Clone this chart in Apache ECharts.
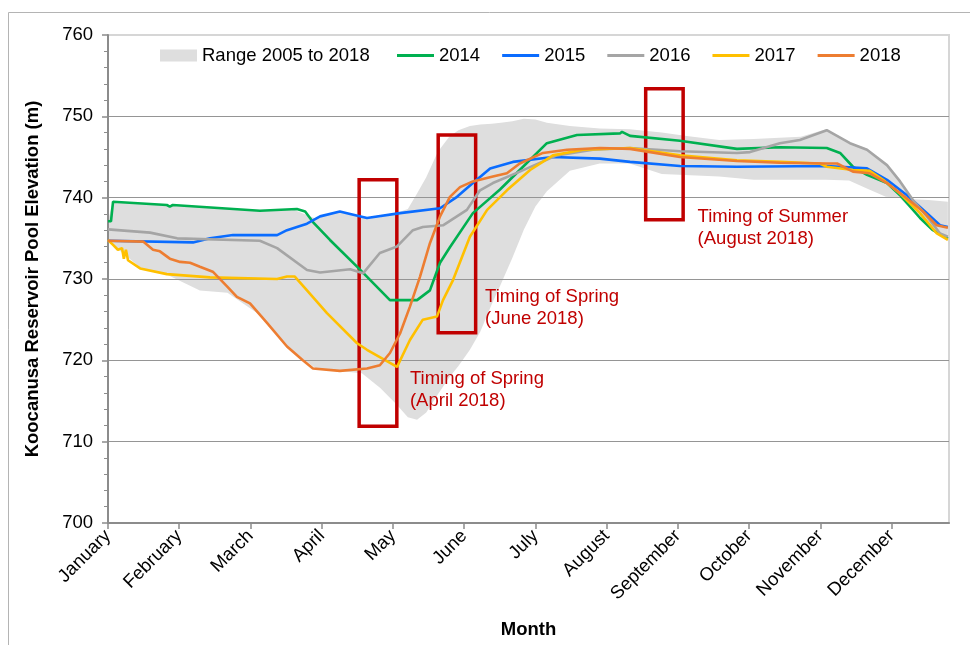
<!DOCTYPE html>
<html>
<head>
<meta charset="utf-8">
<script src="https://cdn.jsdelivr.net/npm/echarts@6/dist/echarts.min.js"></script>
<style>html,body{margin:0;padding:0;background:#fff;}#c{width:970px;height:645px;}</style>
</head>
<body>
<div id="c"></div>
<script>
// ---- Data (x = day of year, y = pool elevation in m) ----
const months = ['January','February','March','April','May','June','July','August','September','October','November','December'];
const monthTickDays = [0,31,62,93,124,155,186,217,248,279,310,341];
const yTickValues = [700,710,720,730,740,750,760];

const days2014 = [0,1.3,2.2,25.6,26.9,28.2,66.1,82.2,85.8,89.2,96.6,108.8,122.7,134.5,140.1,144.5,148.8,158.8,170.6,179.2,191.0,204.1,222.8,223.7,227.2,248.9,273.7,292.4,312.8,318.6,324.2,330.3,339.0,344.7,353.4,359.0,365.5];
const elev2014 = [737.1,737.1,739.5,739.1,738.9,739.1,738.4,738.6,738.3,737.0,734.8,731.4,727.4,727.4,728.6,732.0,733.9,738.1,741.0,743.4,746.7,747.7,747.9,748.1,747.6,747.0,746.0,746.2,746.1,745.5,743.8,742.8,741.8,740.3,737.5,736.0,735.0];

const days2015 = [0,37.0,44.4,54.4,73.6,77.9,86.6,92.3,100.9,105.4,112.7,127.1,144.5,151.9,158.8,166.3,176.2,193.6,214.1,227.2,248.9,273.7,312.8,330.3,339.0,347.7,356.4,362.1,365.5];
const elev2015 = [734.7,734.5,735.0,735.4,735.4,736.0,736.8,737.7,738.3,738.0,737.5,738.1,738.7,740.1,741.8,743.6,744.4,745.0,744.8,744.4,743.9,743.8,743.9,743.6,742.2,740.3,738.1,736.6,736.4];

const days2016 = [0,18.3,30.1,66.1,73.6,86.6,92.3,105.4,111.0,118.3,125.8,132.7,137.0,145.8,156.2,161.9,167.5,179.2,195.3,211.0,227.2,248.9,273.7,279.4,292.4,301.1,312.8,322.9,330.3,339.0,344.7,350.3,356.4,362.1,365.5];
const elev2016 = [736.1,735.7,735.0,734.7,733.8,731.1,730.8,731.2,730.7,733.2,734.0,736.0,736.4,736.6,738.5,740.9,741.8,743.2,745.2,745.9,746.1,745.7,745.5,745.6,746.7,747.1,748.3,746.7,745.9,744.0,742.0,739.7,737.7,735.6,735.2];

const days2017 = [0,2.2,4.3,6.1,6.9,7.8,8.7,14.0,25.6,44.4,73.6,77.9,81.3,86.6,95.3,108.4,112.7,125.8,131.4,137.0,143.2,145.8,150.2,157.5,165.0,173.6,183.7,193.6,206.7,227.2,248.9,273.7,292.4,309.8,312.8,324.2,331.5,337.3,344.7,353.4,360.7,365.5];
const elev2017 = [734.8,734.2,733.6,733.8,732.5,733.6,732.3,731.3,730.6,730.2,730.0,730.3,730.3,728.6,725.8,722.1,721.3,719.2,722.5,725.0,725.4,727.4,729.9,735.2,738.5,740.9,743.4,745.2,745.9,746.1,745.2,744.6,744.4,744.2,743.8,743.4,743.3,742.2,740.5,738.1,735.6,734.8];

const days2018 = [0,15.3,19.6,22.6,26.9,31.4,35.7,40.0,45.6,51.8,56.1,61.8,69.2,77.9,84.8,89.2,100.9,112.7,118.3,122.7,127.1,131.4,135.8,140.1,144.5,148.8,153.2,158.8,167.5,173.6,179.2,189.3,199.8,214.1,227.2,248.9,273.7,292.4,312.8,317.3,324.2,331.5,339.0,347.7,354.7,360.7,365.5];
const elev2018 = [734.7,734.6,733.6,733.4,732.5,732.1,732.0,731.5,730.9,729.1,727.8,727.0,724.6,721.7,720.0,719.0,718.7,719.0,719.4,720.9,723.3,726.6,730.3,734.4,737.7,740.1,741.3,742.0,742.6,743.0,744.2,745.5,745.9,746.1,746.0,745.0,744.5,744.3,744.2,744.2,743.2,743.0,741.8,739.9,738.3,736.6,736.3];

const rangeDays = [0,2,15,26,40,52,65,80,90.5,100.5,110.5,118.5,125.5,130.5,134.5,138.5,143.5,148.5,152.5,157.5,162,167,171,176,181,186,191,201,214,227,241,251,266,281,294.5,301.5,312.5,322.5,330.5,338.5,344.5,350.5,357,362,365.5];
const rangeHigh = [737.1,739.5,739.3,739.1,738.9,738.7,738.4,738.6,737.4,738.3,737.6,737.6,738.1,738.6,740.5,742.5,745.6,747.5,748.3,748.8,749.0,749.1,749.2,749.4,749.7,749.6,749.2,748.8,748.5,748.4,748.0,747.6,747.1,747.2,747.4,747.5,748.4,746.8,746.0,744.1,742.0,739.8,739.7,739.6,739.5];
const rangeLow = [734.7,734.2,731.2,730.5,728.6,728.3,725.8,721.2,719.0,718.7,718.4,716.6,714.6,713.0,712.7,713.6,715.8,717.9,719.3,721.3,723.5,726.9,729.4,732.6,736.1,738.9,740.8,743.3,744.2,744.2,742.9,742.8,742.6,742.2,742.2,742.2,742.2,742.1,741.1,740.1,740.0,738.3,736.4,735.4,734.7];

// annotation boxes (day range, elevation range) and labels
const boxDayStart = [109.3,143.7,234.0];
const boxDayEnd = [125.7,160.0,250.3];
const boxElevTop = [742.2,747.7,753.4];
const boxElevBottom = [711.9,723.4,737.3];
const noteTexts = ['Timing of Spring\n(April 2018)','Timing of Spring\n(June 2018)','Timing of Summer\n(August 2018)'];
const noteDay = [131.4,164.1,256.6];
const noteElev = [719.1,729.1,739.0];

const zip = (xs, ys) => xs.map((x, i) => [x, ys[i]]);
const FONT = '"Liberation Sans", Arial, sans-serif';
const FS = 18.5;
const BAND = '#dedede';

const chart = echarts.init(document.getElementById('c'), null, {renderer: 'canvas'});

const lineSeries = (name, xs, ys, color) => ({
  name, type: 'line', data: zip(xs, ys), showSymbol: false, symbol: 'none',
  lineStyle: {color, width: 2.6}, itemStyle: {color}, z: 3, animation: false
});

const s2018 = lineSeries('2018', days2018, elev2018, '#ed7d31');
s2018.markArea = {
  silent: true,
  itemStyle: {color: 'rgba(0,0,0,0)', borderColor: '#c00000', borderWidth: 3.5},
  label: {show: false},
  data: boxDayStart.map((d, i) => [
    {xAxis: d, yAxis: boxElevTop[i]},
    {xAxis: boxDayEnd[i], yAxis: boxElevBottom[i]}
  ])
};

// range band drawn as one polygon through the axes' scales
const bandData = rangeDays.map((d, i) => [d, rangeLow[i], rangeHigh[i]]);
const bandSeries = {
  name: 'Range 2005 to 2018', type: 'custom', data: bandData, z: 0, silent: true,
  itemStyle: {color: BAND},
  encode: {x: 0, y: [1, 2]},
  renderItem: (params, api) => {
    if (params.dataIndex !== 0) return null;
    const top = bandData.map(r => api.coord([r[0], r[2]]));
    const bot = bandData.map(r => api.coord([r[0], r[1]])).reverse();
    return {type: 'polygon', shape: {points: top.concat(bot)}, style: {fill: BAND}};
  }
};

chart.setOption({
  backgroundColor: '#fff',
  animation: false,
  textStyle: {fontFamily: FONT},
  grid: {left: 108, right: 21, top: 35, bottom: 122, show: true, borderColor: '#d6d6d6', borderWidth: 2, backgroundColor: 'rgba(0,0,0,0)'},
  legend: [
    {
      data: [{name: 'Range 2005 to 2018', itemStyle: {color: BAND}}], left: 160, top: 46, padding: 0, itemWidth: 37, itemHeight: 12, icon: 'rect',
      textStyle: {fontSize: FS, color: '#000', fontFamily: FONT}, selectedMode: false
    },
    {
      data: ['2014','2015','2016','2017','2018'], left: 397, top: 46, padding: 0, itemWidth: 37, itemHeight: 3, icon: 'rect',
      itemGap: 22, textStyle: {fontSize: FS, color: '#000', fontFamily: FONT}, selectedMode: false
    }
  ],
  xAxis: {
    type: 'value', min: 0, max: 366, interval: 31, z: 1,
    name: 'Month', nameLocation: 'middle', nameGap: 97,
    nameTextStyle: {fontSize: FS, fontWeight: 'bold', color: '#000', fontFamily: FONT},
    axisLine: {show: true, lineStyle: {color: '#8c8c8c', width: 2}},
    axisTick: {show: true, length: 6, lineStyle: {color: '#8c8c8c', width: 1.5}, customValues: monthTickDays},
    axisLabel: {
      rotate: 45, margin: 10, fontSize: FS, color: '#000', fontFamily: FONT,
      customValues: monthTickDays,
      formatter: v => months[monthTickDays.indexOf(v)] || ''
    },
    splitLine: {show: false}
  },
  yAxis: {
    type: 'value', min: 700, max: 760, interval: 10, z: 1,
    name: 'Koocanusa Reservoir Pool Elevation (m)', nameLocation: 'middle', nameGap: 66,
    nameTextStyle: {fontSize: FS, fontWeight: 'bold', color: '#000', fontFamily: FONT},
    axisLine: {show: true, lineStyle: {color: '#8c8c8c', width: 2}},
    axisTick: {show: true, length: 6, lineStyle: {color: '#8c8c8c', width: 1.5}, customValues: yTickValues},
    minorTick: {show: true, splitNumber: 5, length: 4, lineStyle: {color: '#8c8c8c', width: 1}},
    axisLabel: {margin: 15, fontSize: FS, color: '#000', fontFamily: FONT},
    splitLine: {show: true, lineStyle: {color: ['#8c8c8c','#959595','#959595','#959595','#959595','#959595','#d6d6d6'], width: 1.2}}
  },
  series: [
    bandSeries,
    lineSeries('2014', days2014, elev2014, '#00b050'),
    lineSeries('2015', days2015, elev2015, '#0a6cff'),
    lineSeries('2016', days2016, elev2016, '#a5a5a5'),
    lineSeries('2017', days2017, elev2017, '#ffc000'),
    s2018
  ]
});

const graphics = [
  {type: 'rect', shape: {x: 8.5, y: 12.5, width: 1200, height: 1200}, style: {fill: 'none', stroke: '#b4b4b4', lineWidth: 1}, silent: true, z: -10}
];
noteTexts.forEach((t, i) => {
  const p = chart.convertToPixel({xAxisIndex: 0, yAxisIndex: 0}, [noteDay[i], noteElev[i]]);
  graphics.push({
    type: 'text', x: p[0], y: p[1], z: 10,
    style: {text: t, fill: '#c00000', fontSize: FS, fontFamily: FONT, lineHeight: 22, verticalAlign: 'top', align: 'left'}
  });
});
chart.setOption({graphic: graphics});
</script>
</body>
</html>
